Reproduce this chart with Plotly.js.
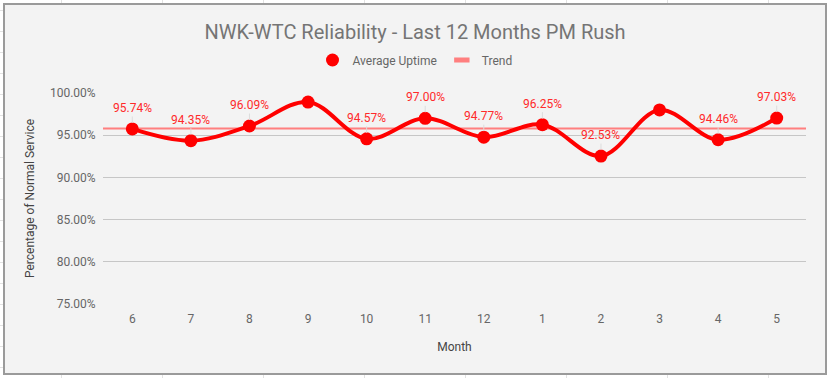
<!DOCTYPE html>
<html><head><meta charset="utf-8">
<script src="https://cdn.plot.ly/plotly-3.0.1.min.js"></script>
<style>
html,body{margin:0;padding:0;width:827px;height:378px;overflow:hidden;background:#fff;}
#bg{position:absolute;left:0;top:0;width:827px;height:378px;
background-image:
 repeating-linear-gradient(to right, transparent 0, transparent 61px, #e2e2e2 61px, #e2e2e2 62px, transparent 62px, transparent 101px),
 repeating-linear-gradient(to bottom, transparent 0, transparent 10px, #e2e2e2 10px, #e2e2e2 11px, transparent 11px, transparent 21px);}
#chart{position:absolute;left:3px;top:3px;width:820px;height:368px;border:2px solid #9a9a9a;background:#f3f3f3;}
</style></head>
<body><div id="bg"></div><div id="chart"></div>
<script>
var months = ["6","7","8","9","10","11","12","1","2","3","4","5"];
var uptime = [95.74, 94.35, 96.09, 98.93, 94.57, 97.00, 94.77, 96.25, 92.53, 97.99, 94.46, 97.03];
var labels = ["95.74%","94.35%","96.09%","","94.57%","97.00%","94.77%","96.25%","92.53%","","94.46%","97.03%"];
var trendX = [-0.5, 11.5];
var trendY = [95.8, 95.8];
var yTicks = [75, 80, 85, 90, 95, 100];
var yTickText = ["75.00%","80.00%","85.00%","90.00%","95.00%","100.00%"];

var idx = months.map(function(m,i){return i;});
var traces = [
 {x: trendX, y: trendY, name: "Trend", type: "scatter", mode: "lines", showlegend: false,
  line: {color: "#ff7f7f", width: 2}},
 {x: idx, y: uptime, name: "Average Uptime", type: "scatter", mode: "lines+markers", showlegend: false,
  line: {color: "#ff0000", width: 4, shape: "spline", smoothing: 1},
  marker: {color: "#ff0000", size: 13}, cliponaxis: false},
 {x: [null], y: [null], name: "Average Uptime", type: "scatter", mode: "markers",
  marker: {color: "#ff0000", size: 13}},
 {x: [null], y: [null], name: "Trend", type: "scatter", mode: "markers",
  marker: {symbol: "line-ew", size: 11, color: "#ff7f7f", line: {color: "#ff7f7f", width: 5}}}
];
var ann = [];
idx.forEach(function(i){
 if(labels[i]) ann.push({x: i, y: uptime[i], xref: "x", yref: "y", text: labels[i],
  showarrow: true, arrowhead: 0, arrowwidth: 1, arrowcolor: "#dcdcdc", ax: 0, ay: -21,
  standoff: 6, font: {family: "Roboto", size: 12, color: "#ff2a2a"}});
});
var layout = {
 width: 820, height: 368,
 margin: {l: 98, r: 19, t: 88, b: 69, autoexpand: false},
 paper_bgcolor: "#f3f3f3", plot_bgcolor: "#f3f3f3",
 font: {family: "Roboto", size: 12, color: "#666"},
 title: {text: "NWK-WTC Reliability - Last 12 Months PM Rush", font: {family: "Roboto", size: 20, color: "#757575"},
  x: 0.5, xanchor: "center", y: 1 - 27/368, yanchor: "middle"},
 showlegend: true,
 legend: {orientation: "h", x: 312/703, xanchor: "center", y: 1 + 33/211, yanchor: "middle",
  font: {family: "Roboto", size: 12, color: "#666"}, bgcolor: "rgba(0,0,0,0)", itemwidth: 30, tracegroupgap: 0},
 xaxis: {range: [-0.5, 11.5], tickmode: "array", tickvals: idx, ticktext: months,
  showgrid: false, zeroline: false, showline: false, ticks: "outside", ticklen: 4, tickcolor: "rgba(0,0,0,0)",
  tickfont: {family: "Roboto", size: 12, color: "#666"},
  title: {text: "Month", font: {family: "Roboto", size: 12, color: "#444"}, standoff: 17}},
 yaxis: {range: [75, 100], tickmode: "array", tickvals: yTicks, ticktext: yTickText,
  showgrid: true, gridcolor: "#c6c6c6", gridwidth: 1, zeroline: false, showline: false,
  ticks: "outside", ticklen: 4, tickcolor: "rgba(0,0,0,0)",
  tickfont: {family: "Roboto", size: 12, color: "#666"},
  title: {text: "Percentage of Normal Service", font: {family: "Roboto", size: 12, color: "#444"}, standoff: 12}},
 annotations: ann
};
Plotly.newPlot("chart", traces, layout, {displayModeBar: false, staticPlot: true});
</script></body></html>
